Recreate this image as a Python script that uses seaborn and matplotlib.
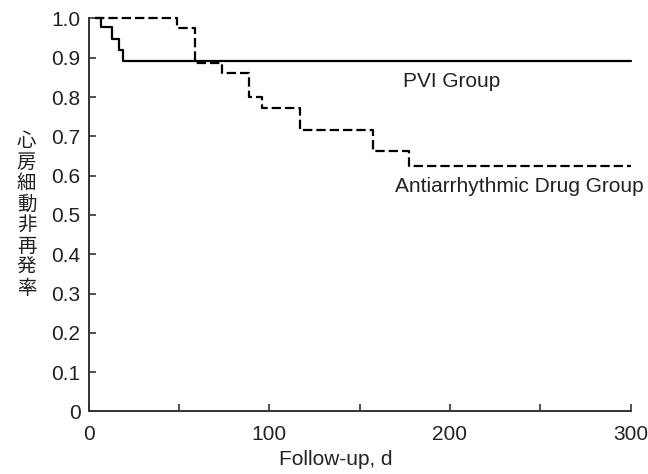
import matplotlib
matplotlib.use('Agg')
import matplotlib.pyplot as plt
import seaborn as sns
import pandas as pd

# survival curves (day, proportion free of AF)
pvi_days = [4, 6.5, 13, 16.7, 19, 300]
pvi_rate = [1.0, 0.979, 0.947, 0.919, 0.892, 0.892]

aad_days = [3.5, 49, 59, 73.6, 89, 96, 117, 157.3, 177.5, 300]
aad_rate = [1.0, 0.975, 0.887, 0.860, 0.801, 0.773, 0.716, 0.663, 0.625, 0.625]

x_ticks = [0, 50, 100, 150, 200, 250, 300]
x_labels = ['0', '', '100', '', '200', '', '300']
y_ticks = [0, 0.1, 0.2, 0.3, 0.4, 0.5, 0.6, 0.7, 0.8, 0.9, 1.0]
y_labels = ['0', '0.1', '0.2', '0.3', '0.4', '0.5', '0.6', '0.7', '0.8', '0.9', '1.0']
y_title = '心房細動非再発率'

sns.set_style('ticks')
plt.rcParams['font.family'] = ['Liberation Sans', 'Noto Sans CJK JP', 'DejaVu Sans']

pvi = pd.DataFrame({'day': pvi_days, 'rate': pvi_rate})
aad = pd.DataFrame({'day': aad_days, 'rate': aad_rate})

fig = plt.figure(figsize=(6.48, 4.74), dpi=100)
ax = fig.add_axes([0.137, 0.132, 0.836, 0.829])

sns.lineplot(data=pvi, x='day', y='rate', ax=ax, color='black', lw=1.6,
             drawstyle='steps-post', clip_on=False)
sns.lineplot(data=aad, x='day', y='rate', ax=ax, color='black', lw=1.6,
             drawstyle='steps-post', clip_on=False, ls=(0, (4.2, 1.8)))

ax.set_xlim(0, 300)
ax.set_ylim(0, 1.0)
ax.set_xticks(x_ticks)
ax.set_xticklabels(x_labels)
ax.set_yticks(y_ticks)
ax.set_yticklabels(y_labels)
ax.tick_params(direction='in', length=5, width=1.2, color='#333333',
               labelsize=15, labelcolor='#222222')
ax.tick_params(axis='x', pad=10)
ax.tick_params(axis='y', pad=6)
sns.despine(ax=ax)
for s in ['left', 'bottom']:
    ax.spines[s].set_linewidth(1.4)
    ax.spines[s].set_color('#333333')

ax.set_xlabel('Follow-up, d', fontsize=15, color='#222222')
ax.xaxis.set_label_coords(0.455, -0.098)
ax.set_ylabel('')
fig.text(0.041, 0.546, '\n'.join(y_title), ha='center', va='center',
         fontsize=14, linespacing=1.0, color='#222222',
         family=['Noto Sans CJK JP', 'DejaVu Sans'])

ax.text(174, 0.839, 'PVI Group', fontsize=15, va='center', color='#222222')
ax.text(169.5, 0.573, 'Antiarrhythmic Drug Group', fontsize=15, va='center',
        color='#222222')

fig.savefig('out.png', dpi=100)
